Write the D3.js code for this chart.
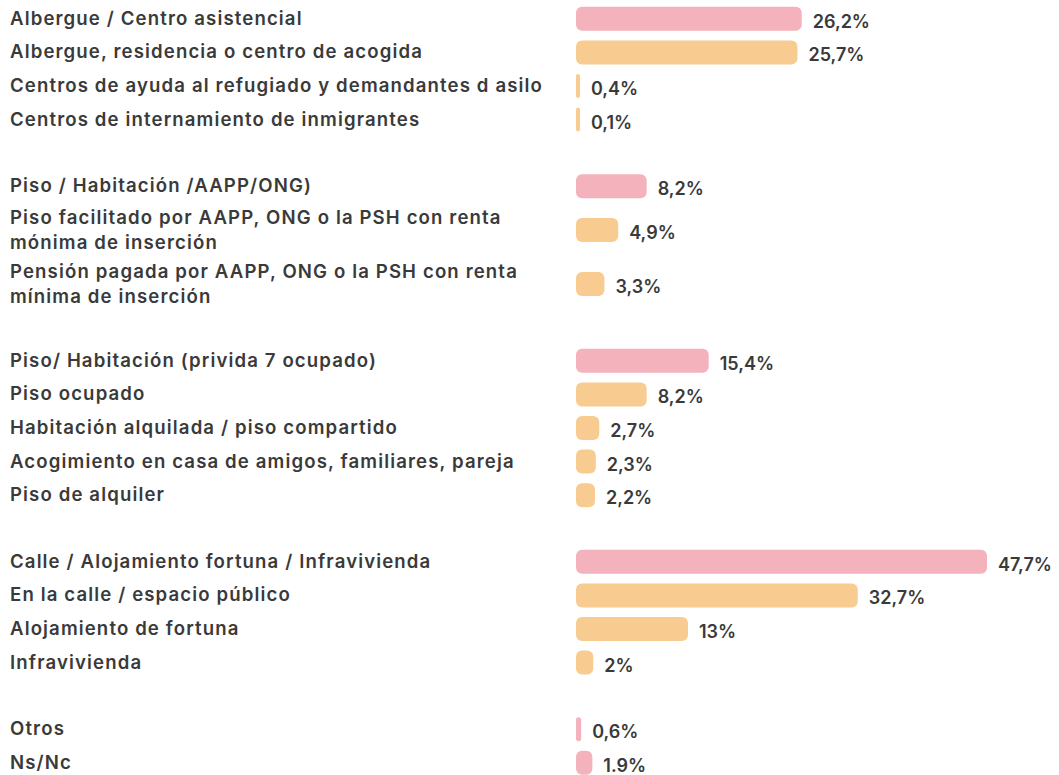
<!DOCTYPE html>
<html>
<head>
<meta charset="utf-8">
<script src="https://cdn.jsdelivr.net/npm/d3@7"></script>
<style>
  html, body { margin: 0; padding: 0; background: #ffffff; }
  svg { display: block; }
  text { font-family: Inter, "Open Sans", sans-serif; font-weight: 600; fill: #3a3a3a; }
</style>
</head>
<body>
<svg id="chart" width="1059" height="775"></svg>
<script>
// ---- data ----
const categories = [
  "Albergue / Centro asistencial",
  "Albergue, residencia o centro de acogida",
  "Centros de ayuda al refugiado y demandantes d asilo",
  "Centros de internamiento de inmigrantes",
  "Piso / Habitación /AAPP/ONG)",
  "Piso facilitado por AAPP, ONG o la PSH con renta\nmónima de inserción",
  "Pensión pagada por AAPP, ONG o la PSH con renta\nmínima de inserción",
  "Piso/ Habitación (privida 7 ocupado)",
  "Piso ocupado",
  "Habitación alquilada / piso compartido",
  "Acogimiento en casa de amigos, familiares, pareja",
  "Piso de alquiler",
  "Calle / Alojamiento fortuna / Infravivienda",
  "En la calle / espacio público",
  "Alojamiento de fortuna",
  "Infravivienda",
  "Otros",
  "Ns/Nc"
];
const values = [26.2, 25.7, 0.4, 0.1, 8.2, 4.9, 3.3, 15.4, 8.2, 2.7, 2.3, 2.2, 47.7, 32.7, 13, 2, 0.6, 1.9];
const valueLabels = ["26,2%", "25,7%", "0,4%", "0,1%", "8,2%", "4,9%", "3,3%", "15,4%", "8,2%", "2,7%", "2,3%", "2,2%", "47,7%", "32,7%", "13%", "2%", "0,6%", "1.9%"];
const groups = [0, 0, 0, 0, 1, 1, 1, 2, 2, 2, 2, 2, 3, 3, 3, 3, 4, 4];
const isTotal = [true, false, false, false, true, false, false, true, false, false, false, false, true, false, false, false, true, true];

// ---- layout ----
const rowH = 33.6, lineRowH = 54, groupGap = 33, top0 = 2;
const rows = [];
let cursor = top0;
categories.forEach((c, i) => {
  if (i > 0 && groups[i] !== groups[i - 1]) cursor += groupGap;
  const lines = c.split("\n");
  const h = lines.length > 1 ? lineRowH : rowH;
  rows.push({ name: c, lines, value: values[i], label: valueLabels[i], total: isTotal[i], cy: cursor + h / 2 });
  cursor += h;
});

const svg = d3.select("#chart");
const x = d3.scaleLinear().domain([0, 47.7]).range([576, 987]);
const barH = 24;
const pink = "#f4b2bc", orange = "#f8cb91";
const fs = 18.6, vfs = 18;

// letter spacing to emulate the wide geometric face of the original
const probe = svg.append("text").style("font-size", fs + "px").text(categories[2]);
const plen = probe.node().getComputedTextLength();
probe.remove();
const ls = Math.max(0, (533 - plen) / categories[2].length);
const probe2 = svg.append("text").style("font-size", vfs + "px").text("26,2%");
const vlen = probe2.node().getComputedTextLength();
probe2.remove();
const vls = Math.max(0, (57 - vlen) / 5);

const bw = d => Math.max(4, x(d.value) - x(0));

const g = svg.selectAll("g.row").data(rows).enter().append("g").attr("class", "row");

g.append("rect")
  .attr("x", x(0))
  .attr("y", d => d.cy - barH / 2)
  .attr("width", bw)
  .attr("height", barH)
  .attr("rx", d => Math.min(6, bw(d) / 2))
  .attr("fill", d => d.total ? pink : orange);

g.append("text")
  .attr("x", d => x(0) + bw(d) + 11)
  .attr("y", d => d.cy + 4)
  .attr("dominant-baseline", "middle")
  .style("font-size", vfs + "px")
  .style("letter-spacing", vls + "px")
  .text(d => d.label);

const lbl = g.append("text")
  .attr("x", 10)
  .attr("y", d => d.cy)
  .style("font-size", fs + "px")
  .style("letter-spacing", ls + "px");
lbl.each(function(d) {
  const t = d3.select(this);
  const n = d.lines.length;
  d.lines.forEach((ln, k) => {
    t.append("tspan")
      .attr("x", 10)
      .attr("y", d.cy + 1 + (k - (n - 1) / 2) * 25)
      .attr("dominant-baseline", "middle")
      .text(ln);
  });
});
</script>
</body>
</html>
